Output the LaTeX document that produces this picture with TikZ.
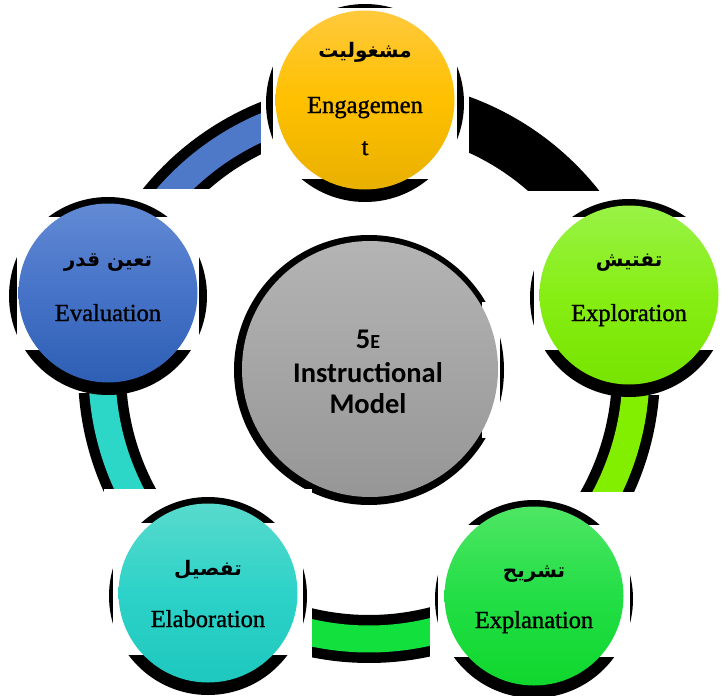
\documentclass[tikz,border=0pt]{standalone}
\usepackage{fontspec}
\setmainfont{Liberation Serif}
\newfontfamily\stagefont[FakeBold=1.2]{Liberation Serif}
\newfontfamily\urdufont[Script=Arabic]{DejaVu Sans}
\newfontfamily\corefont{Carlito}
\TeXXeTstate=1
\usetikzlibrary{calc}

% disc gradients
\definecolor{engTop}{RGB}{255,201,60}
\definecolor{engMid}{RGB}{255,192,0}
\definecolor{engBot}{RGB}{232,176,0}
\definecolor{evaTop}{RGB}{98,138,212}
\definecolor{evaMid}{RGB}{70,115,200}
\definecolor{evaBot}{RGB}{45,95,180}
\definecolor{exrTop}{RGB}{152,242,70}
\definecolor{exrMid}{RGB}{135,238,20}
\definecolor{exrBot}{RGB}{118,228,0}
\definecolor{elaTop}{RGB}{88,218,205}
\definecolor{elaMid}{RGB}{45,210,200}
\definecolor{elaBot}{RGB}{30,200,190}
\definecolor{exnTop}{RGB}{78,230,100}
\definecolor{exnMid}{RGB}{35,222,70}
\definecolor{exnBot}{RGB}{15,215,45}
\definecolor{coreTop}{RGB}{180,180,180}
\definecolor{coreBot}{RGB}{150,150,150}
% ring band colours
\definecolor{arcBlue}{RGB}{78,120,200}
\definecolor{arcLime}{RGB}{130,238,0}
\definecolor{arcGreen}{RGB}{18,224,60}
\definecolor{arcTeal}{RGB}{45,215,200}

\tikzset{
  disc/.style={circle, minimum size=179pt, inner sep=0pt, draw=none},
  stagelabel/.style={anchor=base, inner sep=0pt, font=\stagefont\fontsize{24.5}{28}\selectfont},
  urdulabel/.style={inner sep=0pt, font=\urdufont\bfseries\fontsize{20}{24}\selectfont},
  corelabel/.style={anchor=base, inner sep=0pt, font=\corefont\bfseries\fontsize{28.5}{32}\selectfont},
  bandedge/.style={line width=48pt, draw=black},
  bandfill/.style={line width=27pt},
}

% one segment of the outer ring, between two polar angles
\newcommand\ringseg[3]{%
  \draw[#3] ($(ring)+(#1:267)$) arc[start angle=#1, end angle=#2, radius=267];
}

% white backing, black halo and inner mask behind a stage disc
% #1 name, #2 centre, #3 mask top, #4 mask bottom, #5 mask half width
\newcommand\stagebase[5]{%
  \coordinate (#1-c) at #2;
  \fill[white] ($(#1-c)+(-104,-104)$) rectangle ($(#1-c)+(104,100)$);
  \fill[black] ($(#1-c)+(0,3)$) circle[radius=99];
  \fill[white] ($(#1-c)+(-#5,#3)$) rectangle ($(#1-c)+(#5,#4)$);
}

\begin{document}
\begin{tikzpicture}[x=1pt, y=-1pt]
\fill[white] (0,0) rectangle (723,696);
\useasboundingbox (0,0) rectangle (723,696);

\coordinate (ring) at (369,372);

% outer ring
\ringseg{-163.5}{-90.8}{bandedge}
\ringseg{-163.5}{-90.8}{bandfill, draw=arcBlue}
\ringseg{-90.8}{-16.5}{line width=52pt, draw=black}
\ringseg{-16.5}{53.6}{bandedge}
\ringseg{-16.5}{53.6}{bandfill, draw=arcLime}
\ringseg{53.6}{126}{bandedge}
\ringseg{53.6}{126}{bandfill, draw=arcGreen}
\ringseg{126}{196.5}{bandedge}
\ringseg{126}{196.5}{bandfill, draw=arcTeal}

% central disc with its halo
\fill[black] (369,370) circle[radius=135];
\fill[white] (482,302) rectangle (500,438);
\node[disc, minimum size=256pt, top color=coreTop, bottom color=coreBot] (core) at (370,369) {};
\node[corelabel] (core-l1) at (368,348) {5{\fontsize{20}{24}\selectfont E}};
\node[corelabel] (core-l2) at (368,382) {Instructional};
\node[corelabel] (core-l3) at (368,413) {Model};

% Engagement
\stagebase{eng}{(365,100)}{-92}{79}{92}
\node[disc, top color=engTop, bottom color=engBot, middle color=engMid] (eng) at (eng-c) {};
\node[urdulabel] (eng-u) at ($(eng)+(0,-48)$) {\beginR مشغولیت\endR};
\node[stagelabel] (eng-e1) at ($(eng)+(0,13)$) {Engagemen};
\node[stagelabel] (eng-e2) at ($(eng)+(0,55)$) {t};

% Exploration
\stagebase{exr}{(629,295)}{-78}{55}{95}
\node[disc, top color=exrTop, bottom color=exrBot, middle color=exrMid] (exr) at (exr-c) {};
\node[urdulabel] (exr-u) at ($(exr)+(0,-32)$) {\beginR تفتیش\endR};
\node[stagelabel] (exr-e) at ($(exr)+(0,26)$) {Exploration};

% Explanation
\stagebase{exn}{(534,596)}{-71}{61}{96}
\node[disc, top color=exnTop, bottom color=exnBot, middle color=exnMid] (exn) at (exn-c) {};
\node[urdulabel] (exn-u) at ($(exn)+(0,-22)$) {\beginR تشریح\endR};
\node[stagelabel] (exn-e) at ($(exn)+(0,32)$) {Explanation};

% Elaboration
\stagebase{ela}{(208,593)}{-70}{62}{95}
\node[disc, top color=elaTop, bottom color=elaBot, middle color=elaMid] (ela) at (ela-c) {};
\node[urdulabel] (ela-u) at ($(ela)+(0,-23)$) {\beginR تفصیل\endR};
\node[stagelabel] (ela-e) at ($(ela)+(0,34)$) {Elaboration};

% Evaluation
\stagebase{eva}{(108,293)}{-76}{57}{91}
\node[disc, top color=evaTop, bottom color=evaBot, middle color=evaMid] (eva) at (eva-c) {};
\node[urdulabel] (eva-u) at ($(eva)+(0,-30)$) {\beginR تعین قدر\endR};
\node[stagelabel] (eva-e) at ($(eva)+(0,28)$) {Evaluation};
\end{tikzpicture}
\end{document}
